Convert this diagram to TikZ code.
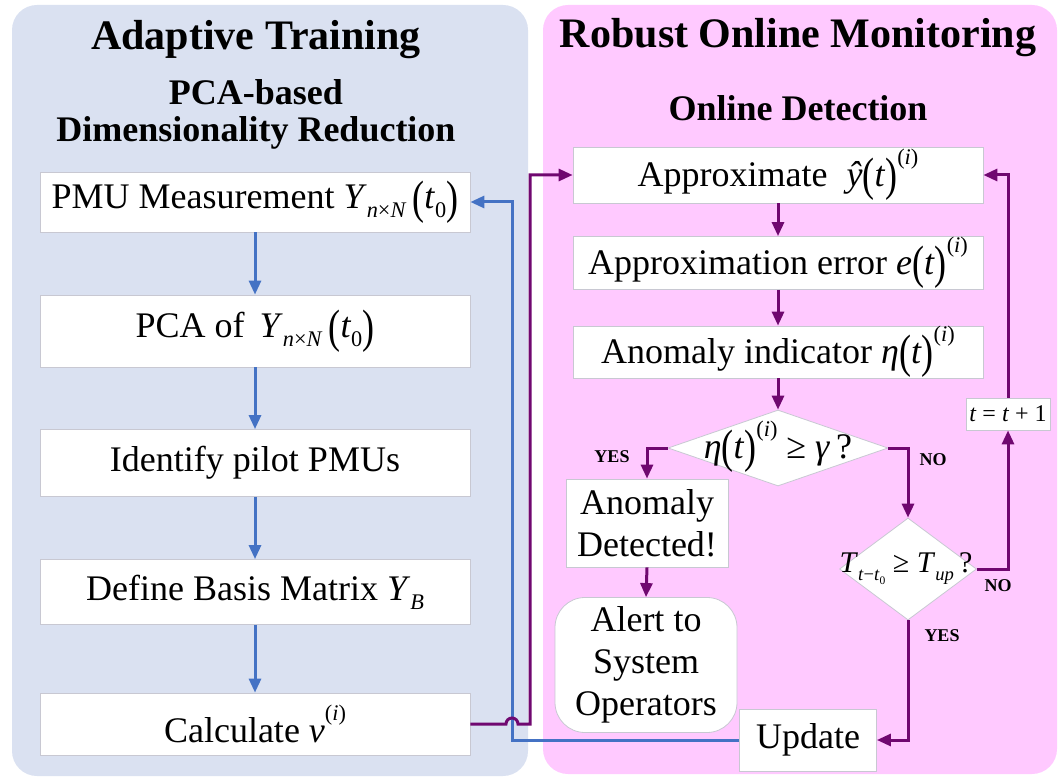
\documentclass[tikz,border=0pt]{standalone}
\usepackage{graphicx}
\usepackage{fontspec}
\setmainfont{Liberation Serif}
\usetikzlibrary{arrows.meta,shapes.geometric,calc}
\definecolor{pur}{RGB}{112,8,112}
\definecolor{blu}{RGB}{68,114,196}
\definecolor{lpanel}{RGB}{218,225,241}
\definecolor{rpanel}{RGB}{255,201,255}
\definecolor{bord}{RGB}{200,200,210}
\newcommand{\lpar}{\raisebox{-0.12em}{\scalebox{1}[1.3]{(}}}
\newcommand{\rpar}{\raisebox{-0.12em}{\scalebox{1}[1.3]{)}}}
\newcommand{\sbs}[1]{\raisebox{-0.25em}{\scalebox{0.62}{#1}}}
\newcommand{\sps}[1]{\raisebox{0.6em}{\scalebox{0.62}{#1}}}
\newcommand{\iv}[1]{\textit{#1}\/}
\begin{document}
\begin{tikzpicture}[x=1pt,y=-1pt,
  box/.style={draw=bord, line width=0.8pt, fill=white, inner sep=0pt, font=\fontsize{36}{42}\selectfont, align=center},
  parr/.style={draw=pur, line width=3pt, -{Triangle[length=14pt,width=12pt]}},
  barr/.style={draw=blu, line width=3pt, -{Triangle[length=14pt,width=12pt]}},
  lbl/.style={font=\bfseries\fontsize{18}{20}\selectfont},
  head/.style={font=\bfseries\fontsize{42}{46}\selectfont},
  subhead/.style={font=\bfseries\fontsize{36}{41}\selectfont}]
\useasboundingbox (0,0) rectangle (1060,778);
% panels
\fill[lpanel, rounded corners=25pt] (12,5) rectangle (528,776);
\fill[rpanel, rounded corners=25pt] (543,5) rectangle (1057,774);
% headings
\node[head] (h1) at (256,40) {Adaptive Training};
\node[subhead] (s1) at (256,92) {PCA-based};
\node[subhead] (s2) at (256,133) {Dimensionality Reduction};
\node[head] (h2) at (798,38) {Robust Online Monitoring};
\node[subhead] (s3) at (798,108) {Online Detection};
% left boxes
\node[box, minimum width=430pt, minimum height=60pt] (pmu) at (255,202) {PMU Measurement \iv{Y}\sbs{\iv{n}×\iv{N}}\,\lpar\iv{t}\sbs{0}\rpar};
\node[box, minimum width=430pt, minimum height=72pt] (pca) at (255,331) {PCA of\, \iv{Y}\sbs{\iv{n}×\iv{N}}\,\lpar\iv{t}\sbs{0}\rpar};
\node[box, minimum width=430pt, minimum height=67pt] (pil) at (255,463) {Identify pilot PMUs};
\node[box, minimum width=430pt, minimum height=65pt] (bas) at (255,592) {Define Basis Matrix \iv{Y}\sbs{\iv{B}}};
\node[box, minimum width=430pt, minimum height=62pt] (calc) at (255,724) {Calculate \iv{v}\sps{(\iv{i})}};
% right boxes
\node[box, minimum width=410pt, minimum height=56pt] (appr) at (778,175) {Approximate \;\iv{ŷ}\lpar\iv{t}\rpar\sps{(\iv{i})}};
\node[box, minimum width=410pt, minimum height=53pt] (err) at (778,263) {Approximation error \iv{e}\lpar\iv{t}\rpar\sps{(\iv{i})}};
\node[box, minimum width=410pt, minimum height=52pt] (ind) at (778,352) {Anomaly indicator \iv{η}\lpar\iv{t}\rpar\sps{(\iv{i})}};
\node[diamond, draw=bord, line width=0.8pt, fill=white, inner sep=0pt, minimum width=220pt, minimum height=76pt] (d1) at (778,448) {};
\node[font=\fontsize{36}{40}\selectfont] (d1t) at (778,447) {\iv{η}\lpar\iv{t}\rpar\sps{(\iv{i})} ≥ \iv{γ}\,?};
\node[diamond, draw=bord, line width=0.8pt, fill=white, inner sep=0pt, minimum width=137pt, minimum height=102pt] (d2) at (908,569) {};
\node[font=\fontsize{30}{32}\selectfont] (d2t) at (906,569) {\iv{T}\sbs{\iv{t}−\iv{t}\sbs{0}} ≥ \iv{T}\sbs{\iv{up}}\,?};
\node[box, minimum width=162pt, minimum height=88pt] (anom) at (647,523) {Anomaly\\Detected!};
\node[box, rounded corners=30pt, minimum width=182pt, minimum height=135pt] (alert) at (646,665) {Alert to\\System\\Operators};
\node[box, minimum width=137pt, minimum height=62pt] (upd) at (808,740) {Update};
\node[box, minimum width=84pt, minimum height=32pt, font=\fontsize{24}{28}\selectfont] (tb) at (1008,414) {\iv{t} = \iv{t} + 1};
% labels
\node[lbl] (yes1) at (612,457) {YES};
\node[lbl] (no1) at (933,460) {NO};
\node[lbl] (no2) at (998,586) {NO};
\node[lbl] (yes2) at (942,636) {YES};
% blue arrows
\draw[barr] (pmu.south) -- (pca.north);
\draw[barr] (pca.south) -- (pil.north);
\draw[barr] (pil.south) -- (bas.north);
\draw[barr] (bas.south) -- (calc.north);
\coordinate (bx) at (512,0);
\coordinate (px) at (530,0);
\draw[barr] (upd.west) -| (bx |- pmu.east) -- (pmu.east);
% purple arrows
\draw[parr] (calc.east) -- ($(bx|-calc.east)+(-6,0)$) arc[start angle=180,end angle=0,radius=6pt] -- (px|-calc.east) |- (appr.west);
\draw[parr] (appr.south) -- (err.north);
\draw[parr] (err.south) -- (ind.north);
\draw[parr] (ind.south) -- (d1.north);
\draw[parr] (d1.west) -| (anom.north);
\draw[parr] (d1.east) -| (d2.north);
\draw[parr] (d2.east) -| (tb.south);
\draw[parr] (tb.north) |- (appr.east);
\draw[parr] (d2.south) |- (upd.east);
\draw[parr] (anom.south) -- (alert.north);
\end{tikzpicture}
\end{document}
